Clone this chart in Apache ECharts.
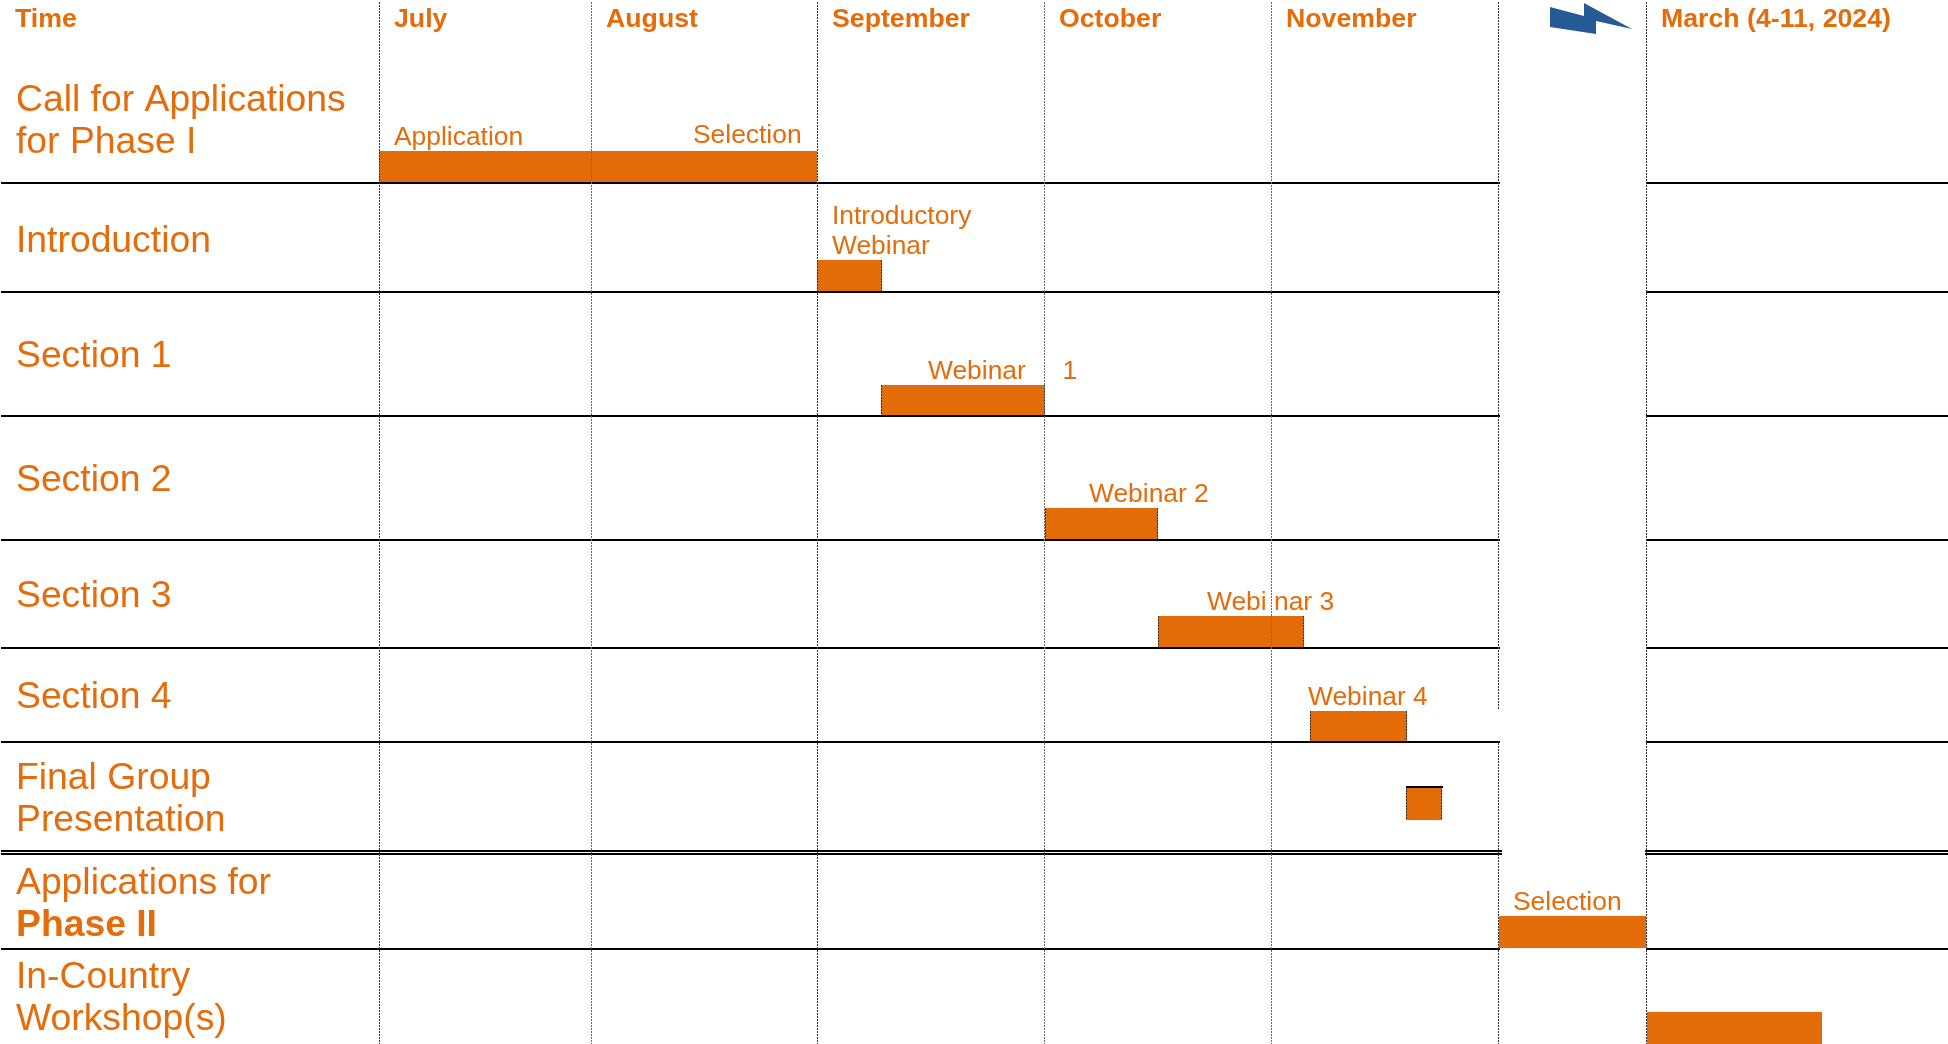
<!DOCTYPE html>
<html>
<head>
<meta charset="utf-8">
<title>Schedule</title>
<script src="https://cdn.jsdelivr.net/npm/echarts@6/dist/echarts.min.js"></script>
<style>
  html, body { margin: 0; padding: 0; background: #fff; }
  #chart { width: 1948px; height: 1044px; }
</style>
</head>
<body>
<div id="chart"></div>
<script>
// header and row texts
const headerLabels = ['Time', 'July', 'August', 'September', 'October', 'November', 'March (4-11, 2024)']
const rowLabels = [
  'Call for Applications\nfor Phase I',
  'Introduction',
  'Section 1',
  'Section 2',
  'Section 3',
  'Section 4',
  'Final Group\nPresentation',
  'Applications for\n{b|Phase II}',
  'In-Country\nWorkshop(s)'
]

// axis readings
const headerTicks = [15, 394, 606, 832, 1059, 1286, 1661]
const rowTicks = [122, 242, 357, 481, 597, 698, 800, 905, 999]
const columnLines = [379, 591, 817, 1044, 1271, 1498, 1646]
const rowLines = [183, 292, 416, 540, 648, 742, 851, 854, 949]

// bars
const barStart = [379, 817, 881, 1045, 1158, 1310, 1406, 1499, 1647]
const barEnd = [817, 882, 1045, 1158, 1304, 1407, 1442, 1646, 1822]
const barTop = [151, 260, 385, 508, 616, 711, 787, 916, 1012]
const barBottom = [182, 291, 415, 539, 647, 741, 820, 948, 1044]

// bar captions
const captions = ['Application', 'Selection', 'Introductory', 'Webinar', 'Webinar     1', 'Webinar 2', 'Webi nar 3', 'Webinar 4', 'Selection']
const captionX = [394, 693, 832, 832, 928, 1089, 1207, 1308, 1513]
const captionY = [138, 136, 217, 247, 372, 495, 603, 698, 903]

const ORANGE = '#e36c09'
const TEXT = '#e46c0a'
const FONT = '"Liberation Sans", Arial, sans-serif'

const chart = echarts.init(document.getElementById('chart'))

function lineShape (api, a, b, style) {
  const p1 = api.coord(a)
  const p2 = api.coord(b)
  return {
    type: 'line',
    shape: { x1: p1[0], y1: p1[1], x2: p2[0], y2: p2[1] },
    style: style
  }
}

const option = {
  animation: false,
  backgroundColor: '#fff',
  grid: { left: 0, right: 0, top: 0, bottom: 0 },
  xAxis: {
    type: 'value',
    position: 'top',
    min: 0,
    max: 1948,
    splitLine: { show: false },
    axisLine: { show: false },
    axisTick: { show: false },
    axisLabel: {
      inside: true,
      customValues: headerTicks,
      hideOverlap: false,
      align: 'left',
      verticalAlign: 'middle',
      margin: 20,
      color: TEXT,
      fontFamily: FONT,
      fontWeight: 'bold',
      fontSize: 26.7,
      formatter: function (value) {
        return headerLabels[headerTicks.indexOf(value)]
      }
    }
  },
  yAxis: {
    type: 'value',
    inverse: true,
    min: 0,
    max: 1044,
    splitLine: { show: false },
    axisLine: { show: false },
    axisTick: { show: false },
    axisLabel: {
      inside: true,
      customValues: rowTicks,
      hideOverlap: false,
      align: 'left',
      verticalAlign: 'middle',
      margin: 16,
      color: TEXT,
      fontFamily: FONT,
      fontSize: 37.3,
      lineHeight: 42,
      rich: {
        b: { fontFamily: FONT, fontSize: 37.3, fontWeight: 'bold', color: TEXT, lineHeight: 42 }
      },
      formatter: function (value) {
        return rowLabels[rowTicks.indexOf(value)]
      }
    }
  },
  series: [
    {
      // horizontal rules, broken over the gap between November and March
      type: 'custom',
      coordinateSystem: 'cartesian2d',
      silent: true,
      z: 1,
      data: rowLines.map(function (y) { return [y] }),
      renderItem: function (params, api) {
        const y = api.value(0)
        const double = y === 851 || y === 854
        const style = { stroke: '#000', lineWidth: 2, fill: null }
        return {
          type: 'group',
          children: [
            lineShape(api, [1, y], [double ? 1502 : 1500, y], style),
            lineShape(api, [double ? 1645 : 1646, y], [1948, y], style)
          ]
        }
      }
    },
    {
      type: 'custom',
      coordinateSystem: 'cartesian2d',
      silent: true,
      z: 2,
      data: barStart.map(function (s, i) { return [s, barEnd[i], barTop[i], barBottom[i]] }),
      renderItem: function (params, api) {
        const s = api.value(0)
        const e = api.value(1)
        const t = api.value(2)
        const b = api.value(3)
        const p1 = api.coord([s, t])
        const p2 = api.coord([e, b])
        const children = [{
          type: 'rect',
          shape: { x: p1[0], y: p1[1], width: p2[0] - p1[0], height: p2[1] - p1[1] },
          style: { fill: ORANGE }
        }]
        // dashed bar ends on the webinar bars
        if (params.dataIndex > 0 && params.dataIndex < 7) {
          const dash = { stroke: '#333', lineWidth: 1, lineDash: [2, 1], fill: null }
          children.push(lineShape(api, [s + 0.5, t], [s + 0.5, b], dash))
          children.push(lineShape(api, [e - 0.5, t], [e - 0.5, b], dash))
        }
        // black cap on the final presentation block
        if (params.dataIndex === 6) {
          children.push(lineShape(api, [s, t], [e + 1, t], { stroke: '#000', lineWidth: 2, fill: null }))
        }
        return { type: 'group', children: children }
      }
    },
    {
      // month columns
      type: 'custom',
      coordinateSystem: 'cartesian2d',
      silent: true,
      z: 3,
      data: columnLines.map(function (x) { return [x] }),
      renderItem: function (params, api) {
        const x = api.value(0) + 0.5
        const dark = x === 379.5 || x === 817.5 || x === 1498.5 || x === 1646.5
        const style = { stroke: dark ? '#333' : '#6a6a6a', lineWidth: 1, lineDash: [2, 1], fill: null }
        if (x === 1498.5) {
          // the column is blanked out next to the Section 4 row
          return {
            type: 'group',
            children: [
              lineShape(api, [x, 2], [x, 710], style),
              lineShape(api, [x, 743], [x, 1044], style)
            ]
          }
        }
        return lineShape(api, [x, 2], [x, 1044], style)
      }
    },
    {
      type: 'custom',
      coordinateSystem: 'cartesian2d',
      silent: true,
      z: 4,
      data: captions.map(function (c, i) { return [captionX[i], captionY[i], c] }),
      renderItem: function (params, api) {
        const p = api.coord([api.value(0), api.value(1)])
        return {
          type: 'text',
          x: p[0],
          y: p[1],
          style: {
            text: captions[params.dataIndex],
            fill: TEXT,
            font: '26.4px ' + FONT,
            textAlign: 'left',
            textVerticalAlign: 'middle'
          }
        }
      }
    }
  ],
  graphic: [
    {
      // lightning bolt marking the break between November and March
      type: 'polygon',
      z: 10,
      shape: {
        points: [[1550, 7], [1584, 16], [1584, 3], [1632, 29], [1596, 21], [1596, 34], [1550, 27]]
      },
      style: { fill: '#265a94' }
    }
  ]
}

chart.setOption(option)
</script>
</body>
</html>
